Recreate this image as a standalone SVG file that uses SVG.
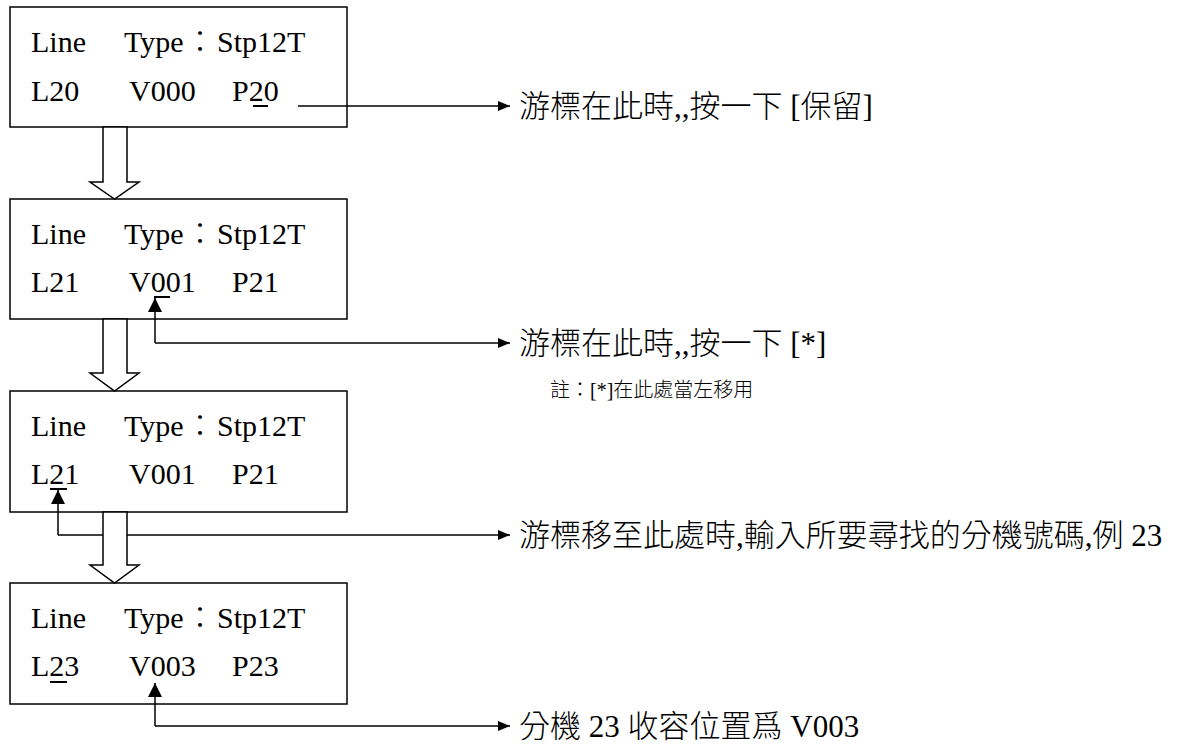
<svg xmlns="http://www.w3.org/2000/svg" width="1194" height="744" viewBox="0 0 1194 744">
<defs>
<style>
.box{fill:#fff;stroke:#000;stroke-width:1.5}
.t{font-family:"Liberation Serif","Noto Sans CJK TC",serif;font-size:30px;fill:#000}
.k{font-weight:300}
.c{font-family:"Liberation Serif","Noto Sans CJK TC",serif;font-size:31px;font-weight:300;fill:#000}
.n{font-family:"Liberation Serif","Noto Sans CJK TC",serif;font-size:20px;font-weight:300;fill:#000}
.ln{fill:none;stroke:#000;stroke-width:1.5}
.ul{stroke:#000;stroke-width:2}
.big{fill:#fff;stroke:#000;stroke-width:1.5;stroke-linejoin:miter}
</style>
<marker id="ah" viewBox="0 0 12 10" refX="12" refY="5" markerWidth="12" markerHeight="10" markerUnits="userSpaceOnUse" orient="auto">
<path d="M0,0 L12,5 L0,10 Z" fill="#000"/>
</marker>
<marker id="au" viewBox="0 0 14 14" refX="14" refY="7" markerWidth="14" markerHeight="14" markerUnits="userSpaceOnUse" orient="auto">
<path d="M0,0 L14,7 L0,14 Z" fill="#000"/>
</marker>
</defs>
<rect width="1194" height="744" fill="#fff"/>

<g id="box1">
<rect class="box" x="10" y="7" width="337" height="120"/>
<text class="t" y="52"><tspan x="31">Line</tspan><tspan x="124">Type</tspan><tspan class="k" x="185">：</tspan><tspan x="217">Stp12T</tspan></text>
<text class="t" y="101"><tspan x="31">L20</tspan><tspan x="129">V000</tspan><tspan x="232">P20</tspan></text>
<line class="ul" x1="253" y1="106" x2="268" y2="106"/>
</g>

<g id="box2">
<rect class="box" x="10" y="199" width="337" height="120"/>
<text class="t" y="244"><tspan x="31">Line</tspan><tspan x="124">Type</tspan><tspan class="k" x="185">：</tspan><tspan x="217">Stp12T</tspan></text>
<text class="t" y="292"><tspan x="31">L21</tspan><tspan x="129">V001</tspan><tspan x="232">P21</tspan></text>
<line class="ul" x1="154" y1="297" x2="170" y2="297"/>
</g>

<g id="box3">
<rect class="box" x="10" y="391" width="337" height="121"/>
<text class="t" y="436"><tspan x="31">Line</tspan><tspan x="124">Type</tspan><tspan class="k" x="185">：</tspan><tspan x="217">Stp12T</tspan></text>
<text class="t" y="484"><tspan x="31">L21</tspan><tspan x="129">V001</tspan><tspan x="232">P21</tspan></text>
<line class="ul" x1="50" y1="489" x2="67" y2="489"/>
</g>

<g id="box4">
<rect class="box" x="10" y="583" width="337" height="121"/>
<text class="t" y="628"><tspan x="31">Line</tspan><tspan x="124">Type</tspan><tspan class="k" x="185">：</tspan><tspan x="217">Stp12T</tspan></text>
<text class="t" y="676"><tspan x="31">L23</tspan><tspan x="129">V003</tspan><tspan x="232">P23</tspan></text>
<line class="ul" x1="50" y1="682" x2="67" y2="682"/>
</g>

<g id="connectors">
<path class="ln" d="M298,106 H510" marker-end="url(#ah)"/>
<path class="ln" d="M155,343 V298" marker-end="url(#au)"/>
<path class="ln" d="M155,343 H510" marker-end="url(#ah)"/>
<path class="ln" d="M58,535 V490" marker-end="url(#au)"/>
<path class="ln" d="M58,535 H510" marker-end="url(#ah)"/>
<path class="ln" d="M155,726 V683" marker-end="url(#au)"/>
<path class="ln" d="M155,726 H510" marker-end="url(#ah)"/>
</g>

<g id="flow-arrows">
<path class="big" d="M103,127 V182 H90 L114.5,199 L139,182 H127 V127 Z"/>
<path class="big" d="M103,319 V373 H90 L114.5,391 L139,373 H127 V319 Z"/>
<path class="big" d="M103,512 V565 H90 L114.5,583 L139,565 H127 V512 Z"/>
</g>

<g id="label1"><text class="c" x="519" y="117">游標在此時,,按一下 [保留]</text></g>
<g id="label2"><text class="c" x="519" y="354">游標在此時,,按一下 [*]</text>
<text class="n" x="550" y="397">註：[*]在此處當左移用</text></g>
<g id="label3"><text class="c" x="519" y="546">游標移至此處時,輸入所要尋找的分機號碼,例 23</text></g>
<g id="label4"><text class="c" x="519" y="737">分機 23 收容位置爲 V003</text></g>
</svg>
